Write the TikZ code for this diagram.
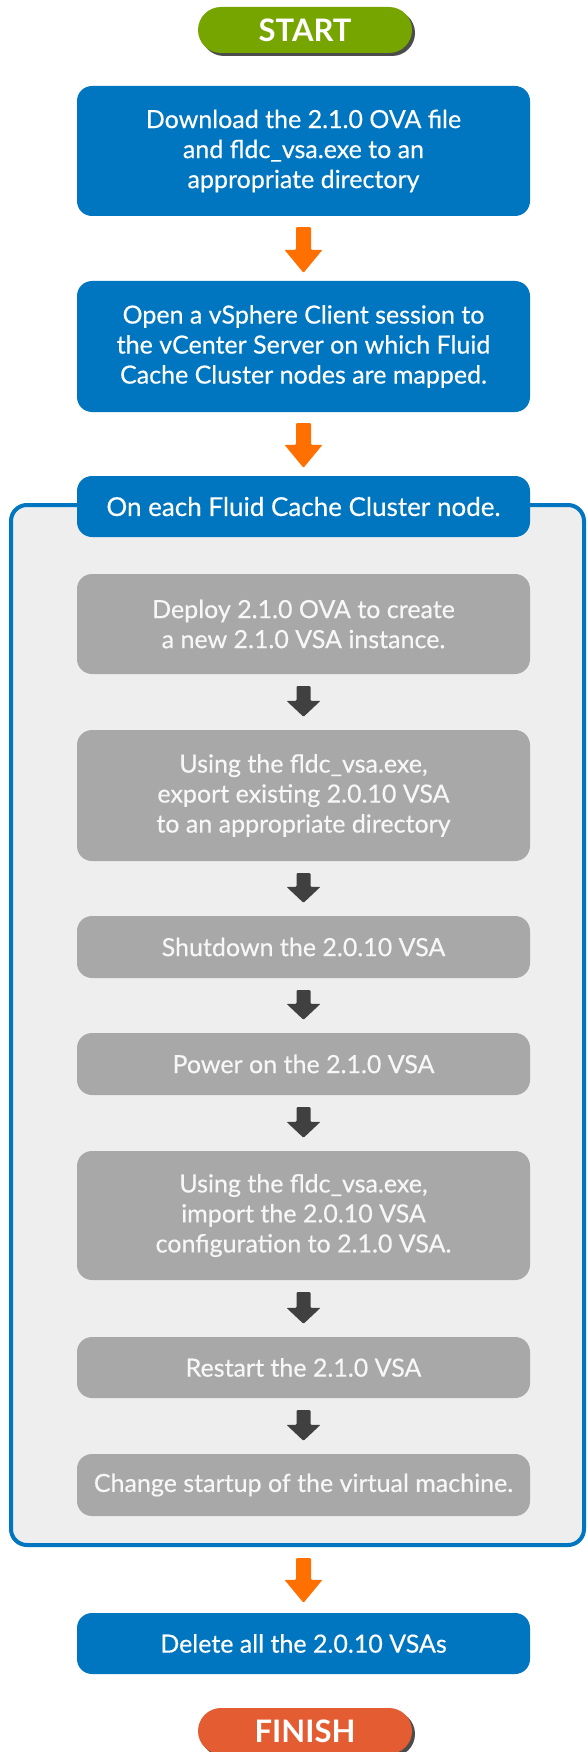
\documentclass[tikz,border=0pt]{standalone}
\usepackage{fontspec}
\setmainfont{Lato}
\newfontfamily\boxfont[FakeBold=0.4]{Lato}
\usetikzlibrary{calc,shadows}
\definecolor{dellblue}{RGB}{0,118,192}
\definecolor{startgreen}{RGB}{118,165,0}
\definecolor{finishred}{RGB}{227,92,50}
\definecolor{arrorange}{RGB}{255,112,0}
\definecolor{arrdark}{RGB}{64,64,64}
\definecolor{stepgrey}{RGB}{168,168,168}
\definecolor{framefill}{RGB}{238,238,238}
\newcommand\flowarrow[8]{%
  \fill[#3,rounded corners=1pt] let \p1=(#1), \p2=(#2) in
    (\x1-#6pt,\y1-#4pt) -- (\x1+#6pt,\y1-#4pt) -- (\x1+#6pt,\y2+#5pt+#8pt)
    -- (\x1+#7pt,\y2+#5pt+#8pt) -- (\x1,\y2+#5pt) -- (\x1-#7pt,\y2+#5pt+#8pt)
    -- (\x1-#6pt,\y2+#5pt+#8pt) -- cycle;}
\begin{document}
\begin{tikzpicture}[x=1pt,y=-1pt,
  bluebox/.style={rectangle,rounded corners=15pt,fill=dellblue,text=white,
    minimum width=453pt,align=center,inner sep=0pt,
    font=\boxfont\fontsize{25}{30}\selectfont},
  greybox/.style={rectangle,rounded corners=15pt,fill=stepgrey,text=white!97!black,
    minimum width=453pt,align=center,inner sep=0pt,
    font=\boxfont\fontsize{25}{30}\selectfont},
  pill/.style={rectangle,rounded corners=23pt,minimum width=214pt,minimum height=46pt,
    text=white,inner sep=0pt,font=\fontsize{31}{31}\selectfont\bfseries,
    drop shadow={shadow xshift=3pt,shadow yshift=-3pt,fill=black!70,opacity=1}},
  orangearrow/.style={fill=arrorange},
  darkarrow/.style={fill=arrdark}]
\useasboundingbox (0,0) rectangle (587,1752);
\fill[white] (0,0) rectangle (587,1752);

\node[pill,fill=startgreen] (start) at (305,30) {START};
\node[bluebox,minimum height=130pt] (b1) at (303.5,151)
  {Download the 2.1.0 OVA file\\and fldc\_vsa.exe to an\\appropriate directory};
\node[bluebox,minimum height=131pt] (b2) at (303.5,346.5)
  {Open a vSphere Client session to\\the vCenter Server on which Fluid\\Cache Cluster nodes are mapped.};

\node[rectangle,draw=dellblue,line width=4pt,fill=framefill,rounded corners=16pt,
  minimum width=573pt,minimum height=1040pt] (frame) at (297.5,1025) {};
\node[bluebox,minimum height=61pt,font=\boxfont\fontsize{26}{30}\selectfont] (hdr) at (303.5,506.5) {On each Fluid Cache Cluster node.};

\node[greybox,minimum height=100pt] (g1) at (303.5,624)
  {Deploy 2.1.0 OVA to create\\a new 2.1.0 VSA instance.};
\node[greybox,minimum height=131pt] (g2) at (303.5,795.5)
  {Using the fldc\_vsa.exe,\\export existing 2.0.10 VSA\\to an appropriate directory};
\node[greybox,minimum height=62pt] (g3) at (303.5,947) {Shutdown the 2.0.10 VSA};
\node[greybox,minimum height=62pt] (g4) at (303.5,1064) {Power on the 2.1.0 VSA};
\node[greybox,minimum height=129pt] (g5) at (303.5,1215.5)
  {Using the fldc\_vsa.exe,\\import the 2.0.10 VSA\\configuration to 2.1.0 VSA.};
\node[greybox,minimum height=61pt] (g6) at (303.5,1367.5) {Restart the 2.1.0 VSA};
\node[greybox,minimum height=62pt] (g7) at (303.5,1485) {Change startup of the virtual machine.};

\node[bluebox,minimum height=61pt] (del) at (303.5,1643.5) {Delete all the 2.0.10 VSAs};
\node[pill,fill=finishred] (finish) at (305,1731) {FINISH};

\flowarrow{b1.south}{b2.north}{orangearrow}{11}{8}{7.5}{19}{23}
\flowarrow{b2.south}{hdr.north}{orangearrow}{11}{8}{7.5}{19}{23}
\flowarrow{g1.south}{g2.north}{darkarrow}{12}{13}{7}{17}{16}
\flowarrow{g2.south}{g3.north}{darkarrow}{12}{13}{7}{17}{16}
\flowarrow{g3.south}{g4.north}{darkarrow}{12}{13}{7}{17}{16}
\flowarrow{g4.south}{g5.north}{darkarrow}{12}{13}{7}{17}{16}
\flowarrow{g5.south}{g6.north}{darkarrow}{12}{13}{7}{17}{16}
\flowarrow{g6.south}{g7.north}{darkarrow}{12}{13}{7}{17}{16}
\flowarrow{frame.south -| del.north}{del.north}{orangearrow}{11}{10}{7.5}{19}{23}
\end{tikzpicture}
\end{document}
